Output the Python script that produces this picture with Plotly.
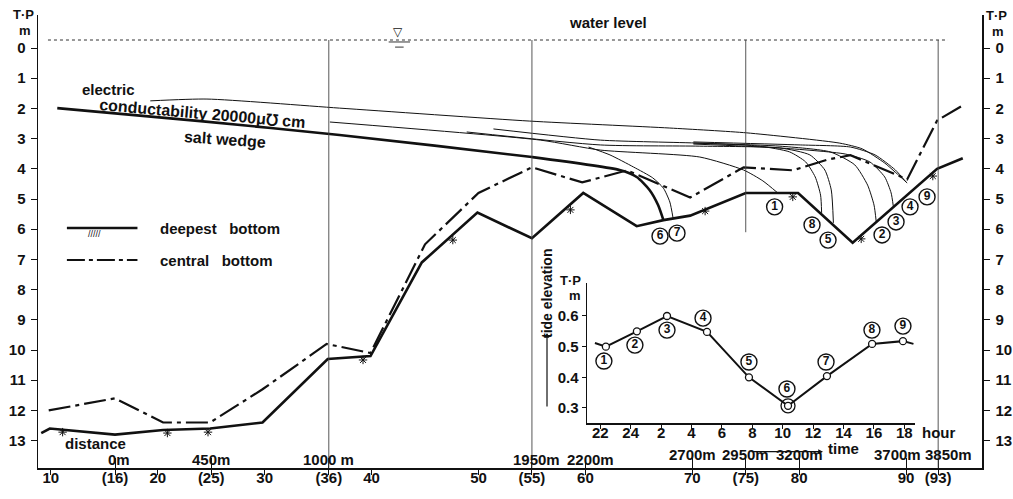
import plotly.graph_objects as go

# ---------------- data ----------------
station_ticks = [10, 16, 20, 25, 30, 36, 40, 50, 55, 60, 70, 75, 80, 90, 93]
station_text = ["10", "(16)", "20", "(25)", "30", "(36)", "40", "50", "(55)", "60",
                "70", "(75)", "80", "90", "(93)"]
dist_stations = [16, 25, 36, 55, 60, 70, 75, 80, 90, 93]
dist_text = ["0m", "450m", "1000 m", "1950m", "2200m", "2700m", "2950m", "3200m", "3700m", "3850m"]
depth_ticks = list(range(0, 14))

# deepest bottom (station, depth m)
deep_x = [9.1, 9.9, 16, 20.5, 24.9, 29.8, 35.9, 39.9, 44.7, 49.9, 55.0, 59.8, 64.8, 67.3,
          69.8, 75.0, 79.9, 85.0, 92.9, 95.3]
deep_y = [12.75, 12.6, 12.8, 12.65, 12.6, 12.4, 10.3, 10.2, 7.1, 5.45, 6.3, 4.8, 5.9, 5.7,
          5.55, 4.8, 4.8, 6.45, 4.0, 3.65]
# central bottom
central_x = [9.8, 16, 20.5, 24.9, 29.8, 35.8, 39.9, 45.0, 50.0, 55.0, 59.7, 63.9, 69.8,
             74.8, 79.4, 82.6, 84.8, 90.1, 92.9, 95.3]
central_y = [12.0, 11.6, 12.4, 12.4, 11.3, 9.8, 10.1, 6.5, 4.8, 3.95, 4.45, 4.05, 4.95,
             3.95, 4.05, 3.7, 3.55, 4.35, 2.4, 1.9]
# hatch marks along deepest bottom
hatch_x = [11.1, 20.9, 24.7, 39.2, 47.6, 58.6, 71.2, 79.4, 85.8, 92.5]
hatch_y = [12.72, 12.75, 12.72, 10.33, 6.36, 5.36, 5.40, 4.93, 6.32, 4.24]

# salt wedge (20000 uS/cm) interfaces at the 9 observation times
wedge6_x = [10.6, 24.0, 37.0, 55.0, 63.2, 64.8, 66.0, 66.8, 67.3]
wedge6_y = [1.99, 2.42, 2.88, 3.61, 4.04, 4.27, 4.70, 5.20, 5.70]
wedge7_x = [60.3, 62.3, 64.5, 66.3, 67.3, 67.9, 68.2]
wedge7_y = [3.28, 3.54, 3.94, 4.30, 4.64, 5.10, 5.63]
wedge1_x = [36.1, 55.8, 61.4, 70.7, 74.8, 76.6, 78.0]
wedge1_y = [2.45, 3.05, 3.38, 3.61, 4.04, 4.40, 4.80]
wedge8_x = [51.4, 61.4, 70.7, 76.3, 79.1, 80.6, 81.5, 82.0, 82.1]
wedge8_y = [2.68, 3.05, 3.15, 3.25, 3.44, 3.77, 4.27, 4.87, 5.46]
wedge5_x = [48.9, 61.4, 70.7, 78.2, 81.0, 82.4, 83.0, 83.2]
wedge5_y = [2.78, 3.21, 3.25, 3.31, 3.54, 4.04, 4.70, 5.79]
wedge2_x = [70.1, 78.2, 82.9, 85.2, 86.4, 87.0, 87.2]
wedge2_y = [3.15, 3.25, 3.44, 3.87, 4.54, 5.20, 5.73]
wedge3_x = [70.1, 78.2, 84.3, 86.6, 88.0, 88.6, 88.8]
wedge3_y = [3.18, 3.31, 3.51, 3.77, 4.27, 4.80, 5.23]
wedge9_x = [70.1, 80.1, 84.8, 87.1, 89.0, 90.0]
wedge9_y = [3.11, 3.21, 3.28, 3.54, 4.04, 4.44]
wedge4_x = [19.3, 24.6, 37.0, 54.8, 67.9, 75.1, 83.8, 85.9, 88.0, 89.3, 90.1]
wedge4_y = [1.75, 1.69, 1.99, 2.42, 2.65, 2.81, 3.15, 3.34, 3.81, 4.21, 4.47]

label_digits = ["1", "2", "3", "4", "5", "6", "7", "8", "9"]
main_label_x = [77.7, 87.75, 89.06, 90.37, 82.7, 66.98, 68.57, 81.2, 91.96]
main_label_y = [5.26, 6.19, 5.76, 5.26, 6.36, 6.23, 6.13, 5.86, 4.93]

# inset: tide elevation
tide_hour = [21.65, 22.37, 24.41, 26.39, 29.02, 31.78, 34.35, 36.91, 39.88, 41.91, 42.6]
tide_elev = [0.512, 0.50, 0.55, 0.60, 0.548, 0.40, 0.307, 0.404, 0.509, 0.518, 0.509]
tide_ticks = [22, 24, 26, 28, 30, 32, 34, 36, 38, 40, 42]
tide_tick_text = ["22", "24", "2", "4", "6", "8", "10", "12", "14", "16", "18"]
elev_ticks = [0.3, 0.4, 0.5, 0.6]
inset_label_x = [22.24, 24.28, 26.39, 28.76, 31.78, 34.28, 36.85, 39.87, 41.91]
inset_label_y = [0.453, 0.505, 0.554, 0.593, 0.45, 0.362, 0.45, 0.554, 0.567]

# ---------------- figure ----------------
FONT = "Liberation Sans"
BLACK = "#111111"

fig = go.Figure()

def line(x, y, width=1.0, dash="solid", shape="spline", xa="x", ya="y"):
    fig.add_trace(go.Scatter(x=x, y=y, mode="lines", xaxis=xa, yaxis=ya,
                             line=dict(color=BLACK, width=width, dash=dash, shape=shape,
                                       smoothing=0.6),
                             hoverinfo="skip", showlegend=False))

# thin wedge lines
for wx, wy in [(wedge7_x, wedge7_y), (wedge1_x, wedge1_y), (wedge8_x, wedge8_y),
               (wedge5_x, wedge5_y), (wedge2_x, wedge2_y), (wedge3_x, wedge3_y),
               (wedge9_x, wedge9_y), (wedge4_x, wedge4_y)]:
    line(wx, wy, width=1.0)
# thick salt wedge line
line(wedge6_x, wedge6_y, width=2.6)
# bottoms
line(deep_x, deep_y, width=2.6, shape="linear")
line(central_x, central_y, width=2.2, dash="22px,5px,4px,5px", shape="linear")

fig.add_trace(go.Scatter(x=hatch_x, y=hatch_y, mode="markers", xaxis="x", yaxis="y",
                         marker=dict(symbol="asterisk-open", size=7, color=BLACK,
                                     line=dict(color=BLACK, width=1)),
                         hoverinfo="skip", showlegend=False))

# legend samples
line([11.5, 18.1], [5.96, 5.96], width=2.6, shape="linear")
line([11.5, 18.1], [7.02, 7.02], width=2.2, dash="18px,4px,4px,4px", shape="linear")

# overlay axis carrying the upward distance ticks
fig.add_trace(go.Scatter(x=[dist_stations[0]], y=[0], mode="markers", xaxis="x3", yaxis="y",
                         marker=dict(opacity=0), hoverinfo="skip", showlegend=False))
# right axis dummy
fig.add_trace(go.Scatter(x=[20], y=[0], mode="markers", xaxis="x", yaxis="y2",
                         marker=dict(opacity=0), hoverinfo="skip", showlegend=False))

# circled time labels on the main section
fig.add_trace(go.Scatter(x=main_label_x, y=main_label_y, mode="markers+text",
                         xaxis="x", yaxis="y", text=label_digits,
                         textposition="middle center",
                         textfont=dict(family=FONT, size=12, color=BLACK, weight="bold"),
                         marker=dict(symbol="circle-open", size=16, color=BLACK,
                                     line=dict(color=BLACK, width=1.4)),
                         hoverinfo="skip", showlegend=False))

# inset
line(tide_hour, tide_elev, width=2.0, shape="linear", xa="x2", ya="y3")
fig.add_trace(go.Scatter(x=tide_hour[1:10], y=tide_elev[1:10], mode="markers",
                         xaxis="x2", yaxis="y3",
                         marker=dict(symbol="circle", size=7, color="white",
                                     line=dict(color=BLACK, width=1.3)),
                         hoverinfo="skip", showlegend=False))
fig.add_trace(go.Scatter(x=[tide_hour[6]], y=[tide_elev[6]], mode="markers",
                         xaxis="x2", yaxis="y3",
                         marker=dict(symbol="circle-open", size=14, color=BLACK,
                                     line=dict(color=BLACK, width=1.3)),
                         hoverinfo="skip", showlegend=False))
fig.add_trace(go.Scatter(x=inset_label_x, y=inset_label_y, mode="markers+text",
                         xaxis="x2", yaxis="y3", text=label_digits,
                         textposition="middle center",
                         textfont=dict(family=FONT, size=12, color=BLACK, weight="bold"),
                         marker=dict(symbol="circle-open", size=16, color=BLACK,
                                     line=dict(color=BLACK, width=1.4)),
                         hoverinfo="skip", showlegend=False))

XR = [8.797, 97.10]
YR = [13.907, -1.093]

shapes = []
# water level
shapes.append(dict(type="line", xref="x", yref="y", x0=9.73, x1=93.92, y0=-0.265, y1=-0.265,
                   line=dict(color="#333", width=1, dash="dot")))
shapes.append(dict(type="line", xref="x", yref="y", x0=41.6, x1=43.6, y0=-0.2, y1=-0.2,
                   line=dict(color="#333", width=1)))
shapes.append(dict(type="line", xref="x", yref="y", x0=42.2, x1=43.0, y0=-0.03, y1=-0.03,
                   line=dict(color="#333", width=1)))
for vx, vb in [(36, 13.9), (55, 13.9), (75, 6.1), (93, 13.9)]:
    shapes.append(dict(type="line", xref="x", yref="y", x0=vx, x1=vx, y0=-0.265, y1=vb,
                       line=dict(color="#444", width=0.9)))

ann = []
def txt(x, y, s, size=16, xref="x", yref="y", angle=0, xanchor="center", xshift=0,
        weight="bold"):
    ann.append(dict(x=x, y=y, xref=xref, yref=yref, text=s, showarrow=False,
                    textangle=angle, xanchor=xanchor, yanchor="middle", xshift=xshift,
                    font=dict(family=FONT, size=size, color=BLACK, weight=weight)))

txt(62.1, -0.86, "water level", 15)
ann.append(dict(x=42.47, y=-0.52, xref="x", yref="y", text="▽", showarrow=False,
                font=dict(family="DejaVu Sans", size=12, color=BLACK)))
txt(15.35, 1.36, "electric", 15)
txt(24.2, 2.17, "conductability 20000μ℧ cm", 16, angle=5)
txt(26.3, 3.03, "salt wedge", 16, angle=4)
txt(20.0, 5.96, "deepest\u00a0\u00a0\u00a0bottom", 15, xanchor="left")
txt(20.0, 7.02, "central\u00a0\u00a0\u00a0bottom", 15, xanchor="left")
txt(14.1, 6.16, "/////", 9, weight="normal")
txt(14.13, 13.08, "distance", 15)
for s, t in zip(dist_stations, dist_text):
    yy = 13.62 if s <= 60 else 13.45
    sh = {16: 4, 55: 5, 60: 5, 90: -9, 93: 10}.get(s, 0)
    txt(s, yy, t, 15, xshift=sh)

# T·P m labels (paper coordinates)
txt(-0.015, 1.002, "T·P", 13, xref="paper", yref="paper")
txt(-0.014, 0.966, "m", 13, xref="paper", yref="paper")
txt(1.015, 1.0, "T·P", 13, xref="paper", yref="paper")
txt(1.017, 0.964, "m", 13, xref="paper", yref="paper")
# inset labels (paper coordinates, outside the inset axes)
txt(0.5640, 0.4150, "T·P", 13, xref="paper", yref="paper")
txt(0.5690, 0.3800, "m", 13, xref="paper", yref="paper")
txt(0.5392, 0.3841, "tide elevation", 14, xref="paper", yref="paper", angle=-90)
txt(0.9534, 0.0773, "hour", 15, xref="paper", yref="paper")
txt(0.8530, 0.0440, "time", 15, xref="paper", yref="paper")
ann.append(dict(x=0.5392, y=0.298, xref="paper", yref="paper", ax=0, ay=75, text="",
                showarrow=True, arrowhead=2, arrowsize=0.8, arrowwidth=1.2, arrowcolor=BLACK))
ann.append(dict(x=0.8316, y=0.036, xref="paper", yref="paper", ax=-73, ay=0, text="",
                showarrow=True, arrowhead=2, arrowsize=0.8, arrowwidth=1.2, arrowcolor=BLACK))

tickfont = dict(family=FONT, size=15, color=BLACK, weight="bold")
common = dict(showgrid=False, zeroline=False, automargin=False, tickcolor=BLACK,
              linecolor=BLACK, linewidth=1.5)
fig.update_layout(
    width=1013, height=499, autosize=False,
    margin=dict(l=38, r=31, t=15, b=31, autoexpand=False),
    paper_bgcolor="white", plot_bgcolor="white",
    showlegend=False,
    shapes=shapes, annotations=ann,
    xaxis=dict(range=XR, domain=[0, 1], anchor="y", showline=True,
               tickmode="array", tickvals=station_ticks, ticktext=station_text,
               ticks="outside", ticklen=5, tickfont=tickfont, ticklabelstandoff=-10, **common),
    xaxis3=dict(range=XR, overlaying="x", anchor="y", side="bottom", showline=False,
                tickmode="array", tickvals=dist_stations,
                ticks="inside", ticklen=10, showticklabels=False, **common),
    yaxis=dict(range=YR, domain=[0, 1], anchor="x", showline=True,
               tickmode="array", tickvals=depth_ticks, ticks="outside", ticklen=6,
               tickfont=tickfont, ticklabelstandoff=2, **common),
    yaxis2=dict(range=YR, overlaying="y", side="right", anchor="x", showline=True,
                tickmode="array", tickvals=depth_ticks, ticks="outside", ticklen=6,
                tickfont=tickfont, ticklabelstandoff=3, **common),
    xaxis2=dict(range=[21.13, 42.7], domain=[0.5816, 0.929], anchor="y3", showline=True,
                tickmode="array", tickvals=tide_ticks, ticktext=tide_tick_text,
                ticks="outside", ticklen=4, tickfont=tickfont, ticklabelstandoff=-9,
                **common),
    yaxis3=dict(range=[0.251, 0.7076], domain=[0.0993, 0.4084], anchor="x2", showline=True,
                tickmode="array", tickvals=elev_ticks, ticks="outside", ticklen=4,
                tickfont=tickfont, **common),
)

fig.write_html(
    "out.html",
    config={"displayModeBar": False, "responsive": False, "staticPlot": True},
    post_script=("document.documentElement.style.margin='0';"
                 "document.documentElement.style.overflow='hidden';"
                 "document.body.style.margin='0';document.body.style.padding='0';"
                 "document.body.style.overflow='hidden';"),
)
